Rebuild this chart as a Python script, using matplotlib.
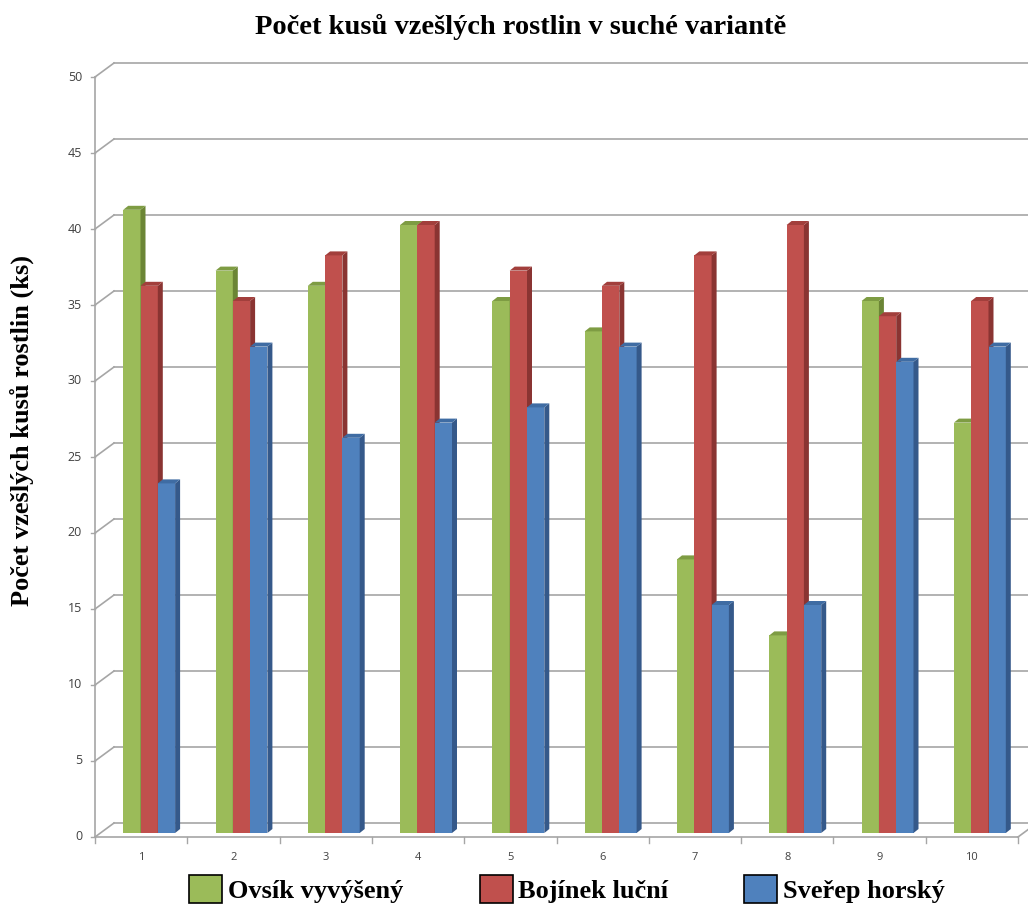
import matplotlib
matplotlib.use("Agg")
import matplotlib.pyplot as plt
from matplotlib.patches import Polygon, Patch
import numpy as np

# ---- data ----
categories = ["1", "2", "3", "4", "5", "6", "7", "8", "9", "10"]
series_names = ["Ovsík vyvýšený", "Bojínek luční", "Sveřep horský"]
ovsik = [41, 37, 36, 40, 35, 33, 18, 13, 35, 27]
bojinek = [36, 35, 38, 40, 37, 36, 38, 40, 34, 35]
sverep = [23, 32, 26, 27, 28, 32, 15, 15, 31, 32]
yticks = [0, 5, 10, 15, 20, 25, 30, 35, 40, 45, 50]
title = "Počet kusů vzešlých rostlin v suché variantě"
ylabel = "Počet vzešlých kusů rostlin (ks)"

front_cols = ["#9BBB59", "#C0504D", "#4F81BD"]
top_cols = ["#7E9C43", "#A23F3C", "#3F6CA3"]
side_cols = ["#6B8535", "#8A3432", "#35598A"]

W, H = 1028, 906
fig = plt.figure(figsize=(W / 100, H / 100), dpi=100)
# axes: x 0.5..10.5 -> px 95..1018 ; y 0..50 -> px 837..77
ax = fig.add_axes([95 / W, (H - 837) / H, 923 / W, 760 / H])
ax.set_xlim(0.5, 10.5)
ax.set_ylim(0, 50)
ax.axis("off")

pxx = 10.0 / 923   # x units per pixel
pxy = 50.0 / 760   # y units per pixel
DX, DY = 19 * pxx, 14 * pxy   # full depth offset

grid_c = "#A6A6A6"
n = len(categories)
xs = np.arange(1, n + 1)

# back wall gridlines + diagonals
for t in yticks:
    ax.plot([0.5, 0.5 + DX], [t, t + DY], color=grid_c, lw=1.2, clip_on=False)
    ax.plot([0.5 + DX, 10.5 + DX + 0.2], [t + DY, t + DY], color=grid_c, lw=1.2, clip_on=False)
    ax.plot([0.5 - 4 * pxx, 0.5], [t, t], color=grid_c, lw=1.0, clip_on=False)
    ax.text(0.5 - 13 * pxx, t, str(t), ha="right", va="center", fontsize=9,
            color="#404040", family="Open Sans")
# front vertical axis
ax.plot([0.5, 0.5], [0, 50], color=grid_c, lw=1.2, clip_on=False)
# floor front line + right diagonal
ax.plot([0.5, 10.5], [0, 0], color=grid_c, lw=1.2, clip_on=False)
ax.plot([10.5, 10.5 + DX], [0, DY], color=grid_c, lw=1.2, clip_on=False)
for b in np.arange(0.5, 11.0, 1.0):
    ax.plot([b, b], [0, -6 * pxy], color=grid_c, lw=1.0, clip_on=False)
for x, c in zip(xs, categories):
    ax.text(x, -20 * pxy, c, ha="center", va="center", fontsize=8,
            color="#404040", family="Open Sans")

# bars
bw = 17.3 * pxx
d0x, d0y = 8 * pxx, 4 * pxy      # bar front offset
bdx, bdy = 5 * pxx, 4 * pxy      # bar depth
data = [ovsik, bojinek, sverep]
for i in range(n):
    left0 = xs[i] + d0x - 1.5 * bw
    for s in range(3):
        v = data[s][i]
        xl = left0 + s * bw
        xr = xl + bw
        ax.bar(xl, v, width=bw, bottom=d0y, align="edge", color=front_cols[s],
               edgecolor="none", zorder=3, clip_on=False)
        top = Polygon([(xl, v + d0y), (xr, v + d0y), (xr + bdx, v + d0y + bdy),
                       (xl + bdx, v + d0y + bdy)], closed=True,
                      facecolor=top_cols[s], edgecolor="none", zorder=3, clip_on=False)
        side = Polygon([(xr, d0y), (xr, v + d0y), (xr + bdx, v + d0y + bdy),
                        (xr + bdx, d0y + bdy)], closed=True,
                       facecolor=side_cols[s], edgecolor="none", zorder=3, clip_on=False)
        ax.add_patch(side)
        ax.add_patch(top)

fig.text(521 / W, 1 - 27 / H, title, ha="center", va="center", fontsize=20.5,
         fontweight="bold", family="Liberation Serif")
fig.text(22 / W, 1 - 431 / H, ylabel, ha="center", va="center", rotation=90,
         fontsize=19, fontweight="bold", family="Liberation Serif")

handles = [Patch(facecolor=c, edgecolor="black", linewidth=1.2) for c in front_cols]
fig.legend(handles, series_names, loc="center", bbox_to_anchor=(567 / W, 1 - 889 / H),
           ncol=3, frameon=False, columnspacing=2.9, handlelength=1.25,
           handleheight=1.25, handletextpad=0.2,
           prop={"family": "Liberation Serif", "weight": "bold", "size": 19})

fig.savefig("out.png", dpi=100)
